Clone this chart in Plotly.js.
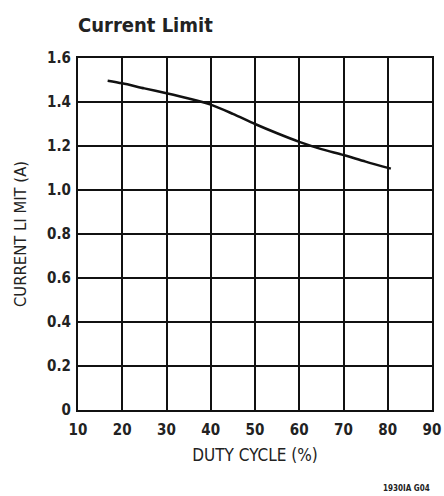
<!DOCTYPE html>
<html>
<head>
<meta charset="utf-8">
<script src="https://cdn.plot.ly/plotly-3.0.1.min.js"></script>
<style>html,body{margin:0;padding:0;background:#fff;}#chart{width:444px;height:496px;}</style>
</head>
<body>
<div id="chart"></div>
<script>
const dutyCycle = [16.7, 20, 25, 30, 35, 40, 45, 50, 55, 60, 65, 70, 75, 80.7];
const currentLimit = [1.497, 1.485, 1.462, 1.44, 1.416, 1.388, 1.346, 1.30, 1.258, 1.219, 1.186, 1.159, 1.129, 1.097];
const xTicks = [10, 20, 30, 40, 50, 60, 70, 80, 90];
const yTicks = [0, 0.2, 0.4, 0.6, 0.8, 1.0, 1.2, 1.4, 1.6];
const yTickText = ['0', '0.2', '0.4', '0.6', '0.8', '1.0', '1.2', '1.4', '1.6'];

const fontFam = '"DejaVu Sans Condensed", "Liberation Sans Narrow", "Arial Narrow", sans-serif';

const trace = {
  x: dutyCycle, y: currentLimit, type: 'scatter', mode: 'lines',
  line: {color: '#111', width: 2.5, shape: 'spline', smoothing: 0.8},
  hoverinfo: 'skip', showlegend: false
};

const layout = {
  width: 444, height: 496,
  margin: {l: 78, r: 12, t: 58, b: 86},
  paper_bgcolor: '#fff', plot_bgcolor: '#fff',
  title: {text: '<b>Current Limit</b>', x: 78/444, xanchor: 'left', y: 1 - 25/496, yanchor: 'middle',
          font: {family: fontFam, size: 20, color: '#222'}},
  xaxis: {
    range: [10, 90], tickvals: xTicks, ticktext: xTicks.map(String),
    showgrid: true, gridcolor: '#111', gridwidth: 2,
    showline: true, linecolor: '#111', linewidth: 2, mirror: true,
    zeroline: false, ticks: 'outside', ticklen: 5, tickcolor: 'rgba(0,0,0,0)',
    tickfont: {family: fontFam, size: 15, color: '#222', weight: 'bold'},
    title: {text: 'DUTY CYCLE (%)', font: {family: fontFam, size: 17, color: '#222'}, standoff: 11}
  },
  yaxis: {
    range: [0, 1.6], tickvals: yTicks, ticktext: yTickText,
    showgrid: true, gridcolor: '#111', gridwidth: 2,
    showline: true, linecolor: '#111', linewidth: 2, mirror: true,
    zeroline: false, ticks: 'outside', ticklen: 2, tickcolor: 'rgba(0,0,0,0)',
    tickfont: {family: fontFam, size: 15, color: '#222', weight: 'bold'},
    title: {text: 'CURRENT LI MIT (A)', font: {family: fontFam, size: 16.5, color: '#222'}, standoff: 16}
  },
  annotations: [{
    text: '<b>1930IA G04</b>', xref: 'paper', yref: 'paper', x: 1, y: -0.222,
    xanchor: 'right', yanchor: 'middle', showarrow: false,
    font: {family: fontFam, size: 8, color: '#222'}
  }]
};

Plotly.newPlot('chart', [trace], layout, {displayModeBar: false, staticPlot: true});
</script>
</body>
</html>
